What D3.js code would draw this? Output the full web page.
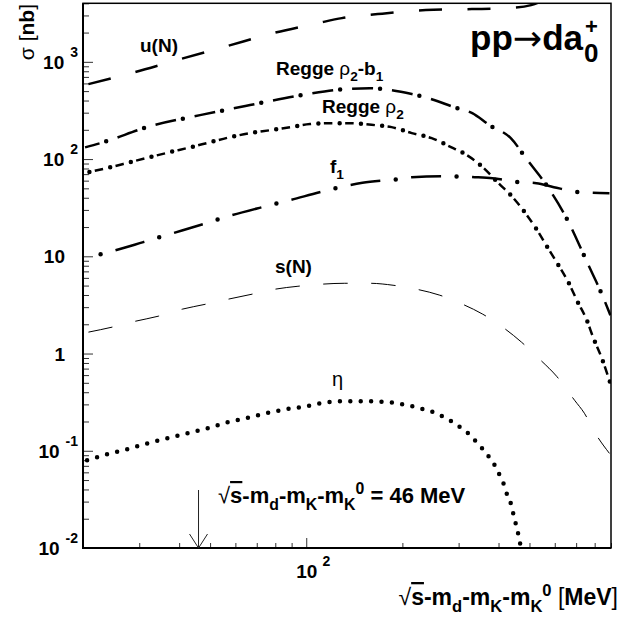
<!DOCTYPE html>
<html>
<head>
<meta charset="utf-8">
<script src="https://cdn.jsdelivr.net/npm/d3@7"></script>
<style>
body { margin: 0; background: #fff; }
svg text { font-family: "Liberation Sans", Arial, Helvetica, sans-serif; font-weight: bold; fill: #000; }
</style>
</head>
<body>
<svg id="chart" width="639" height="619"></svg>
<script>
// energy above threshold [MeV] and cross sections [nb]
var uNEnergy = [20.8, 29.1, 40.3, 56.5, 78.7, 108.8, 129.3, 167.5, 237, 330, 427, 506, 560];
var uNSigma  = [590, 783, 1066, 1451, 1972, 2500, 2815, 3098, 3406, 3486, 3568, 3829, 4400];

var rhoB1Energy = [20.3, 22.7, 32.5, 46.5, 66.7, 101, 132, 158, 185, 214, 247, 290, 331, 375, 437, 490, 565, 653, 765, 840, 896];
var rhoB1Sigma  = [132, 146, 218, 283, 359, 466, 524, 536, 511, 466, 413, 342, 297, 223, 164, 100, 54, 24.7, 8.1, 4.17, 2.48];

var rhoEnergy = [20.8, 24.4, 28.1, 32.5, 37.5, 43.3, 50, 57.8, 66.7, 77, 88.9, 102.7, 118.6, 137, 165, 185, 214, 247, 285, 318, 357, 397, 443, 486, 529, 569, 614, 662, 706, 754, 793, 840, 896];
var rhoSigma  = [73.3, 82.6, 93, 105, 118, 132, 149, 168, 185, 198, 213, 229, 234, 234, 223, 213, 185, 164, 132, 110, 82.6, 57.8, 40.5, 27.7, 18.5, 12.4, 8.28, 5.41, 3.45, 2.25, 1.44, 0.916, 0.494];

var f1Energy = [20.8, 22.7, 30.9, 38.3, 47.5, 58.6, 72.7, 88.9, 110, 126, 150, 192, 214, 265, 337, 383, 465, 526, 596, 724, 890];
var f1Sigma  = [9.8, 10.5, 14.0, 17.3, 21.4, 26.5, 32.0, 37.8, 45.6, 51, 57, 62, 65, 66.7, 65.2, 63.6, 57.8, 56.5, 51.4, 45.6, 44.6];

var sNEnergy = [20.8, 24.7, 29.2, 34.4, 40.9, 48.3, 56.9, 67.7, 79.9, 94.2, 111, 132, 158, 187, 222, 262, 309, 357, 412, 472, 538, 608, 692, 743, 804, 890];
var sNSigma  = [1.66, 1.87, 2.15, 2.42, 2.86, 3.21, 3.62, 4.08, 4.59, 4.92, 5.16, 5.28, 5.28, 5.04, 4.58, 3.98, 3.21, 2.54, 1.87, 1.31, 0.874, 0.584, 0.331, 0.243, 0.151, 0.094];

var etaEnergy = [20.6, 23.8, 27.5, 31.8, 36.7, 42.4, 49.0, 56.5, 64.8, 74.8, 86.4, 100, 116, 134, 155, 179, 192, 206, 222, 238, 256, 273, 292, 309, 327, 344, 362, 378, 394, 406, 418, 427, 439, 446, 455, 462, 469, 472];
var etaSigma  = [0.0798, 0.092, 0.1036, 0.119, 0.134, 0.151, 0.170, 0.196, 0.216, 0.243, 0.267, 0.287, 0.316, 0.323, 0.323, 0.316, 0.309, 0.294, 0.280, 0.261, 0.243, 0.216, 0.192, 0.166, 0.144, 0.119, 0.0988, 0.0817, 0.066, 0.0533, 0.0431, 0.0340, 0.0275, 0.0217, 0.0167, 0.0135, 0.0104, 0.009];

var yMajorExp = [3, 2, 1, 0, -1, -2];
var xMajor = [100];
var thresholdEnergy = 46;

var svg = d3.select('#chart');
var x = d3.scaleLog().domain([20, 900]).range([83, 611]);
var y = d3.scaleLog().domain([0.01, 4000]).range([548, 3.3]);

svg.append('clipPath').attr('id', 'clip')
  .append('rect')
  .attr('x', x.range()[0]).attr('y', y.range()[1])
  .attr('width', x.range()[1] - x.range()[0])
  .attr('height', y.range()[0] - y.range()[1]);

// minor ticks: 2..9 in every decade that fits
function minors(scale){
    var d = scale.domain(), out = [];
    for (var e = -3; e <= 4; e++){
        for (var k = 2; k <= 9; k++){
            var v = k * Math.pow(10, e);
            if (v >= d[0] && v <= d[1]) out.push(v);
        }
    }
    return out;
}

var axes = svg.append('g');
function tickAxis(axis, values, size, transform){
    var g = axes.append('g').attr('transform', transform)
        .call(axis.tickValues(values).tickSize(-size).tickSizeOuter(0).tickFormat(''));
    g.select('.domain').remove();
    g.selectAll('line').attr('stroke', '#333').attr('stroke-width', 1);
}
tickAxis(d3.axisLeft(y), yMajorExp.map(e => Math.pow(10, e)), 10, 'translate(83,0)');
tickAxis(d3.axisLeft(y), minors(y), 6, 'translate(83,0)');
tickAxis(d3.axisBottom(x), xMajor, 10, 'translate(0,548)');
tickAxis(d3.axisBottom(x), minors(x), 5, 'translate(0,548)');

// frame
svg.append('rect')
  .attr('x', 83).attr('y', 3.3).attr('width', 528).attr('height', 544.7)
  .attr('fill', 'none').attr('stroke', '#000').attr('stroke-width', 1.5);
svg.append('path').attr('d', 'M83,3.3V548H611').attr('fill', 'none').attr('stroke', '#000').attr('stroke-width', 2);

// tick labels
yMajorExp.forEach(e => {
    var t = svg.append('text').attr('font-size', 19).attr('text-anchor', 'end');
    if (e === 1 || e === 0){
        t.attr('x', 65).attr('y', y(Math.pow(10, e)) + 7).text(e === 1 ? '10' : '1');
    } else {
        t.attr('x', 78).attr('y', y(Math.pow(10, e)) + 7);
        t.append('tspan').text('10');
        t.append('tspan').attr('dx', 6).attr('dy', -12).attr('font-size', 14).text(e);
    }
});
xMajor.forEach(v => {
    var t = svg.append('text').attr('font-size', 19).attr('x', x(v) - 10).attr('y', 578);
    t.append('tspan').text('10');
    t.append('tspan').attr('dx', 5).attr('dy', -12).attr('font-size', 14).text(Math.log10(v));
});

// rich text: runs of {t, s: 'sub'|'sup', n: normal weight, o: overline, f: font}
function rich(t, runs, fs){
    var cur = 0;
    runs.forEach(r => {
        var target = r.s === 'sub' ? fs * 0.3 : r.s === 'sup' ? -fs * 0.4 : 0;
        var sp = t.append('tspan')
            .attr('dy', target - cur)
            .attr('font-size', r.s ? fs * 0.72 : fs)
            .attr('font-weight', r.n ? 'normal' : 'bold')
            .text(r.t);
        if (r.f) sp.style('font-family', r.f);
        if (r.o) sp.style('text-decoration', 'overline');
        cur = target;
    });
}
var qRuns = [{t: '\u221A', n: 1}, {t: 's', o: 1}, {t: '-m'}, {t: 'd', s: 'sub'}, {t: '-m'}, {t: 'K', s: 'sub'},
             {t: '-m'}, {t: 'K', s: 'sub'}, {t: '0', s: 'sup'}];

// axis titles
rich(svg.append('text').attr('x', 618).attr('y', 605).attr('text-anchor', 'end'),
     qRuns.concat([{t: ' [', n: 1}, {t: 'MeV'}, {t: ']', n: 1}]), 23);
rich(svg.append('text').attr('transform', 'translate(34,4) rotate(-90)').attr('text-anchor', 'end'),
     [{t: '\u03C3 [', n: 1}, {t: 'nb'}, {t: ']', n: 1}], 21);

// reaction label
svg.append('text').attr('x', 583).attr('y', 50).attr('text-anchor', 'end')
  .call(t => rich(t, [{t: 'pp'}, {t: '\u2192', n: 1, f: '"DejaVu Sans"'}, {t: 'da'}], 35));
svg.append('text').attr('x', 585).attr('y', 34).attr('font-size', 22).text('+');
svg.append('text').attr('x', 584).attr('y', 62).attr('font-size', 26).text('0');

// curves
var line = d3.line().x(d => x(d[0])).y(d => y(d[1])).curve(d3.curveMonotoneX);
var curves = [
    {e: uNEnergy, s: uNSigma, w: 2.5, dash: '23,25.5', off: 0},
    {e: rhoB1Energy, s: rhoB1Sigma, w: 2.5, dash: '21,19', off: 6, dot: '0,40', dotOff: -22},
    {e: rhoEnergy, s: rhoSigma, w: 2.5, dash: '8.5,12.8', off: -6.5, dot: '0,21.3', dotOff: -1},
    {e: f1Energy, s: f1Sigma, w: 2.5, dash: '30,31', off: -28, dot: '0,61', dotOff: -12.5},
    {e: sNEnergy, s: sNSigma, w: 1, dash: '24.5,23.5', off: 0},
    {e: etaEnergy, s: etaSigma, w: 0, dot: '0,10.4', dotOff: 0}
];
var plot = svg.append('g').attr('clip-path', 'url(#clip)');
curves.forEach(c => {
    var pts = d3.zip(c.e, c.s);
    if (c.w){
        plot.append('path').attr('d', line(pts)).attr('fill', 'none')
            .attr('stroke', '#000').attr('stroke-width', c.w)
            .attr('stroke-dasharray', c.dash).attr('stroke-dashoffset', c.off);
    }
    if (c.dot){
        plot.append('path').attr('d', line(pts)).attr('fill', 'none')
            .attr('stroke', '#000').attr('stroke-width', 4.5).attr('stroke-linecap', 'round')
            .attr('stroke-dasharray', c.dot).attr('stroke-dashoffset', c.dotOff);
    }
});

// curve labels
function label(px, py, runs, fs){
    rich(svg.append('text').attr('x', px).attr('y', py), runs, fs || 19);
}
label(140, 52, [{t: 'u(N)'}]);
label(276, 75, [{t: 'Regge '}, {t: '\u03C1', n: 1}, {t: '2', s: 'sub'}, {t: '-b'}, {t: '1', s: 'sub'}]);
label(322, 113, [{t: 'Regge '}, {t: '\u03C1', n: 1}, {t: '2', s: 'sub'}]);
label(330, 173, [{t: 'f'}, {t: '1', s: 'sub'}]);
label(275, 273, [{t: 's(N)'}]);
label(332, 386, [{t: '\u03B7', n: 1}], 20);

// threshold arrow and note
var ax = x(thresholdEnergy);
svg.append('path')
  .attr('d', `M${ax},490V548M${ax - 9},534L${ax},548L${ax + 9},534`)
  .attr('fill', 'none').attr('stroke', '#222').attr('stroke-width', 1);
label(218, 503, qRuns.concat([{t: ' = 46 MeV'}]), 22);
</script>
</body>
</html>
